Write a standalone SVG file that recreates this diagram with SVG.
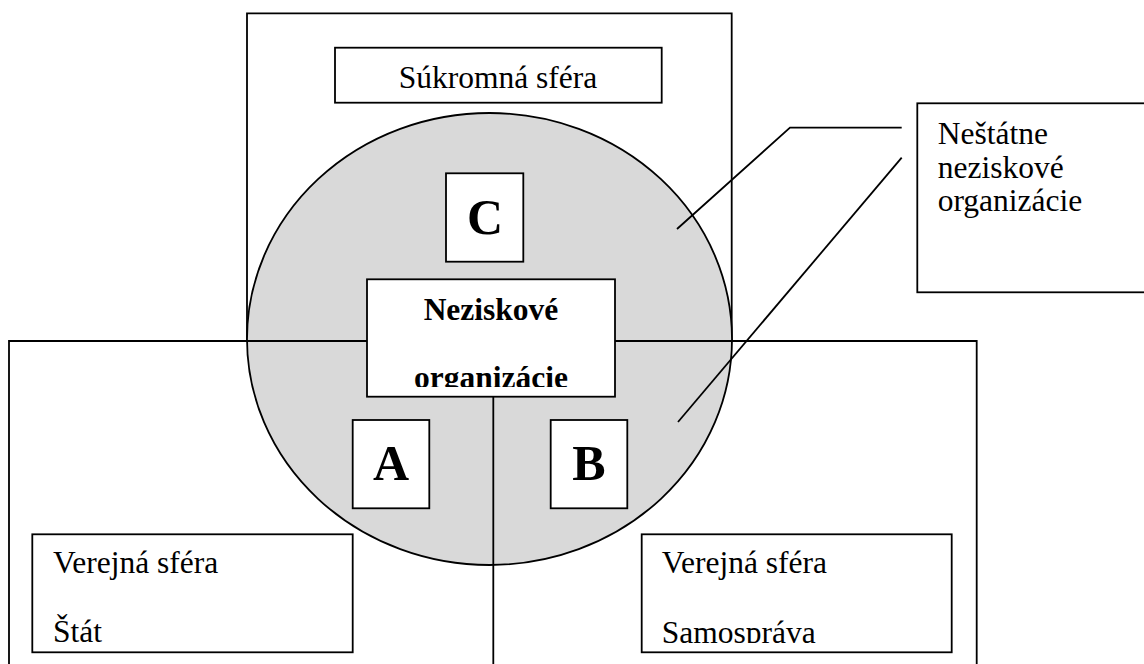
<svg xmlns="http://www.w3.org/2000/svg" width="1144" height="664" viewBox="0 0 1144 664">
  <style>
    .ln { fill: none; stroke: #000; stroke-width: 1.8; }
    .box { fill: #fff; stroke: #000; stroke-width: 1.8; }
    .t { font-family: "Liberation Serif", "Times New Roman", serif; font-size: 31.5px; fill: #000; }
    .b { font-family: "Liberation Serif", "Times New Roman", serif; font-weight: bold; fill: #000; }
  </style>
  <defs>
    <clipPath id="clipNz"><rect x="367" y="280" width="248" height="107"/></clipPath>
    <clipPath id="clipSam"><rect x="642" y="535" width="310" height="108"/></clipPath>
  </defs>
  <rect width="1144" height="664" fill="#fff"/>

  <g id="sukromna-sfera">
    <path class="ln" d="M247,341 V13.3 H731.7 V341"/>
    <rect class="box" x="335" y="47.7" width="326.7" height="55"/>
    <text class="t" x="498" y="88.3" text-anchor="middle">Súkromná sféra</text>
  </g>

  <g id="verejna-sfera-stat-outer">
    <path class="ln" d="M9,664 V341 H247"/>
  </g>
  <g id="verejna-sfera-samosprava-outer">
    <path class="ln" d="M731.7,341 H976.7 V664"/>
  </g>

  <g id="neziskovy-kruh">
    <ellipse cx="489.5" cy="339" rx="242.5" ry="226" fill="#d9d9d9" stroke="#000" stroke-width="1.8"/>
  </g>

  <g id="connectors">
    <line class="ln" x1="247" y1="341" x2="367" y2="341"/>
    <line class="ln" x1="615" y1="341" x2="731.7" y2="341"/>
    <line class="ln" x1="493.3" y1="397" x2="493.3" y2="664"/>
    <path class="ln" d="M901.7,127.7 H790 L677,229"/>
    <line class="ln" x1="901.7" y1="157.7" x2="678" y2="422"/>
  </g>

  <g id="node-c">
    <rect class="box" x="446" y="173.3" width="77.3" height="88.4"/>
    <text class="b" x="485" y="234" font-size="50" text-anchor="middle">C</text>
  </g>

  <g id="node-a">
    <rect class="box" x="352.7" y="420" width="76.6" height="88.3"/>
    <text class="b" x="391" y="480" font-size="50" text-anchor="middle">A</text>
  </g>

  <g id="node-b">
    <rect class="box" x="550.7" y="420" width="76.6" height="88.3"/>
    <text class="b" x="589" y="480" font-size="50" text-anchor="middle">B</text>
  </g>

  <g id="neziskove-organizacie">
    <rect class="box" x="367" y="279.3" width="248" height="117.4"/>
    <g clip-path="url(#clipNz)">
      <text class="b" x="491" y="320" font-size="31.5" text-anchor="middle">Neziskové</text>
      <text class="b" x="491" y="388" font-size="31.5" text-anchor="middle">organizácie</text>
    </g>
  </g>

  <g id="nestatne-neziskove">
    <rect class="box" x="917.3" y="103.3" width="240" height="189"/>
    <text class="t" x="937.7" y="144">Neštátne</text>
    <text class="t" x="937.7" y="177.5">neziskové</text>
    <text class="t" x="937.7" y="211">organizácie</text>
  </g>

  <g id="verejna-sfera-stat">
    <rect class="box" x="32.3" y="534.3" width="320.4" height="118"/>
    <text class="t" x="53" y="573.3">Verejná sféra</text>
    <text class="t" x="53" y="641.7">Štát</text>
  </g>

  <g id="verejna-sfera-samosprava">
    <rect class="box" x="641.7" y="534.3" width="310" height="118"/>
    <text class="t" x="661.7" y="573.3">Verejná sféra</text>
    <g clip-path="url(#clipSam)">
      <text class="t" x="661.7" y="643">Samospráva</text>
    </g>
  </g>
</svg>
